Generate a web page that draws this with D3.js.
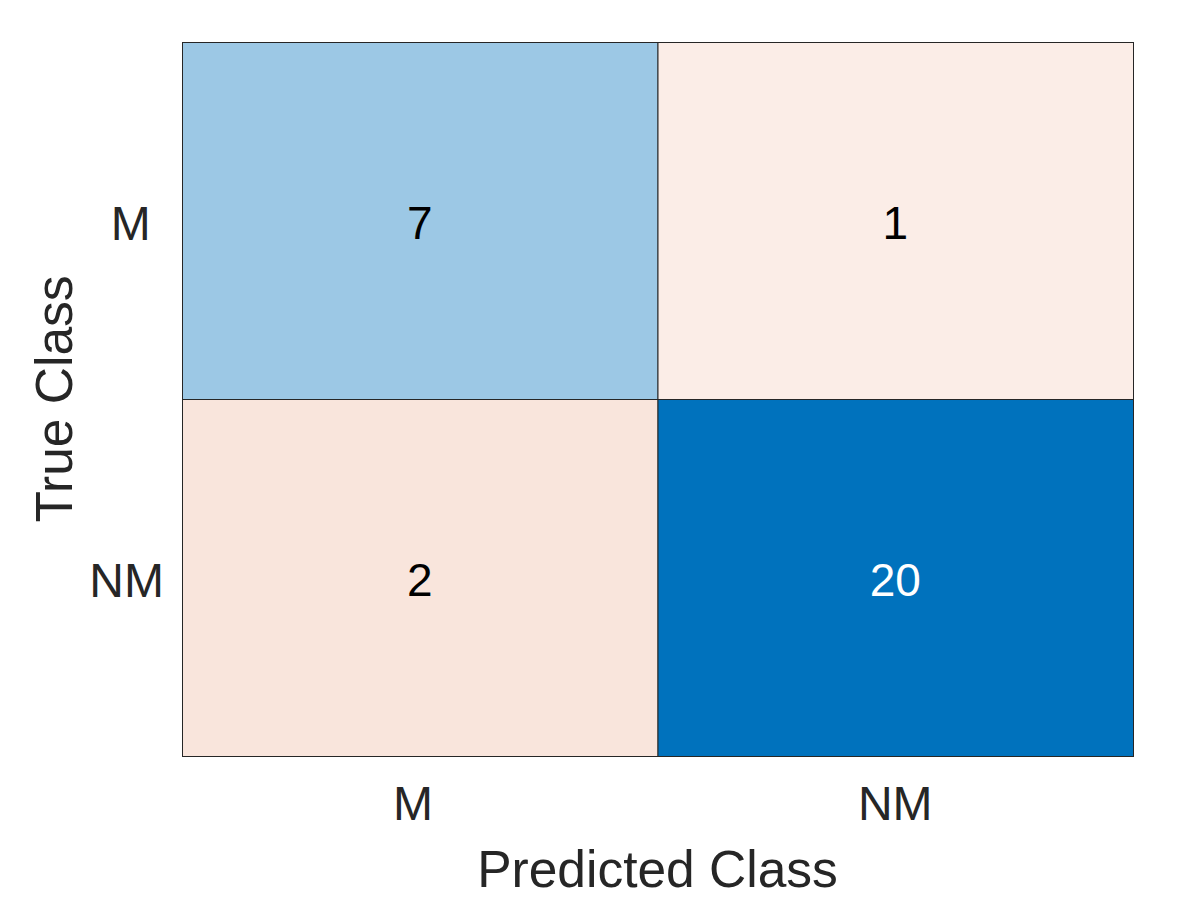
<!DOCTYPE html>
<html>
<head>
<meta charset="utf-8">
<script src="https://cdn.jsdelivr.net/npm/d3@7"></script>
<style>
  body { margin: 0; background: #fff; }
  text { font-family: "Liberation Sans", Arial, sans-serif; white-space: pre; }
</style>
</head>
<body>
<div id="chart"></div>
<script>
// class names come from a padded char array, hence the trailing space on "M "
const classes = ["M ", "NM"];
const trueClass = ["M ", "M ", "NM", "NM"];
const predClass = ["M ", "NM", "M ", "NM"];
const counts = [7, 1, 2, 20];

const margin = { top: 42, right: 46, bottom: 164, left: 182 };
const W = 1179, H = 920;
const width = W - margin.left - margin.right;
const height = H - margin.top - margin.bottom;

const svg = d3.select("#chart").append("svg")
    .attr("width", W)
    .attr("height", H);

const g = svg.append("g")
    .attr("transform", `translate(${margin.left},${margin.top})`);

const x = d3.scaleBand().domain(classes).range([0, width]);
const y = d3.scaleBand().domain(classes).range([0, height]);

const maxCount = d3.max(counts);
// diagonal in blue, off-diagonal in a pale red, like matlab's confusionchart
const diagColor = d3.scalePow().exponent(0.9).domain([0, maxCount]).range(["#ffffff", "#0072BD"]);
const offColor = d3.scalePow().exponent(0.55).domain([0, 60]).range(["#ffffff", "#D95319"]);

const cells = counts.map((v, i) => ({ t: trueClass[i], p: predClass[i], v }));

g.selectAll("rect.cell")
    .data(cells)
    .join("rect")
    .attr("class", "cell")
    .attr("x", d => x(d.p) + 0.5)
    .attr("y", d => y(d.t) + 0.5)
    .attr("width", x.bandwidth())
    .attr("height", y.bandwidth())
    .attr("fill", d => d.t === d.p ? diagColor(d.v) : offColor(d.v))
    .attr("stroke", "#262626")
    .attr("stroke-width", 1);

g.selectAll("text.val")
    .data(cells)
    .join("text")
    .attr("class", "val")
    .attr("x", d => x(d.p) + x.bandwidth() / 2)
    .attr("y", d => y(d.t) + y.bandwidth() / 2)
    .attr("dy", "0.4em")
    .attr("text-anchor", "middle")
    .style("font-size", "46px")
    .attr("fill", d => (d.t === d.p && d.v / maxCount > 0.5) ? "#ffffff" : "#000000")
    .text(d => d.v);

// y tick labels
g.selectAll("text.ytick")
    .data(classes)
    .join("text")
    .attr("class", "ytick")
    .attr("x", -18)
    .attr("y", d => y(d) + y.bandwidth() / 2)
    .attr("dy", "0.4em")
    .attr("text-anchor", "end")
    .attr("fill", "#262626")
    .style("font-size", "48px")
    .text(d => d);

// x tick labels
g.selectAll("text.xtick")
    .data(classes)
    .join("text")
    .attr("class", "xtick")
    .attr("x", d => x(d) + x.bandwidth() / 2)
    .attr("y", height + 64)
    .attr("text-anchor", "middle")
    .attr("fill", "#262626")
    .style("font-size", "48px")
    .text(d => d);

g.append("text")
    .attr("x", width / 2)
    .attr("y", height + 131)
    .attr("text-anchor", "middle")
    .attr("fill", "#262626")
    .style("font-size", "51.5px")
    .text("Predicted Class");

g.append("text")
    .attr("transform", `translate(${-110},${height / 2}) rotate(-90)`)
    .attr("text-anchor", "middle")
    .attr("fill", "#262626")
    .style("font-size", "51.5px")
    .text("True Class");
</script>
</body>
</html>
